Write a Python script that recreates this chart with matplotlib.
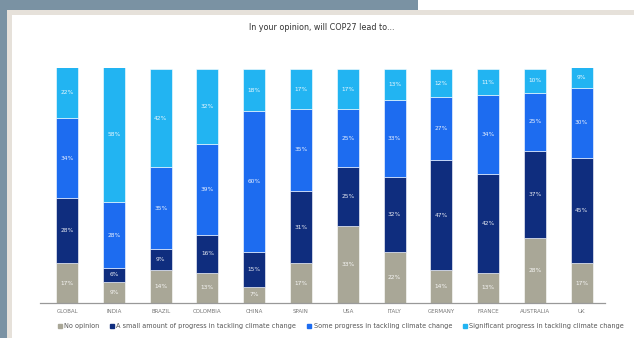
import matplotlib
matplotlib.use("Agg")
import matplotlib.pyplot as plt
from matplotlib.patches import Rectangle
from matplotlib.lines import Line2D
import numpy as np

countries = ["GLOBAL", "INDIA", "BRAZIL", "COLOMBIA", "CHINA", "SPAIN", "USA",
             "ITALY", "GERMANY", "FRANCE", "AUSTRALIA", "UK"]
no_opinion = [17, 9, 14, 13, 7, 17, 33, 22, 14, 13, 28, 17]
small_progress = [28, 6, 9, 16, 15, 31, 25, 32, 47, 42, 37, 45]
some_progress = [34, 28, 35, 39, 60, 35, 25, 33, 27, 34, 25, 30]
significant = [22, 58, 42, 32, 18, 17, 17, 13, 12, 11, 10, 9]

series_names = ["No opinion",
                "A small amount of progress in tackling climate change",
                "Some progress in tackling climate change",
                "Significant progress in tackling climate change"]
colors = ["#a9a797", "#0f2d7e", "#1d6cf0", "#22b4f2"]
title = "In your opinion, will COP27 lead to..."

W, H = 634, 338
fig = plt.figure(figsize=(W / 100, H / 100), dpi=100)
fig.patch.set_facecolor("white")
# background frame
fig.patches.append(Rectangle((0, 0), 7 / W, 1, transform=fig.transFigure,
                             facecolor="#7a92a3", edgecolor="none", zorder=-10))
fig.patches.append(Rectangle((0, 1 - 10 / H), 418 / W, 10 / H, transform=fig.transFigure,
                             facecolor="#7a92a3", edgecolor="none", zorder=-10))
fig.patches.append(Rectangle((7 / W, 1 - 15 / H), 1 - 7 / W, 5 / H, transform=fig.transFigure,
                             facecolor="#e6e1da", edgecolor="none", zorder=-9))
fig.patches.append(Rectangle((7 / W, 0), 5 / W, 1 - 10 / H, transform=fig.transFigure,
                             facecolor="#e6e1da", edgecolor="none", zorder=-9))

ax = fig.add_axes([40 / W, 1 - 303 / H, 565 / W, (303 - 68) / H])
ax.set_facecolor("none")
x = np.arange(len(countries))
bottom = np.zeros(len(countries))
for vals, col, name in zip([no_opinion, small_progress, some_progress, significant], colors, series_names):
    vals = np.array(vals, dtype=float)
    ax.bar(x, vals, bottom=bottom, width=0.47, color=col, label=name,
           edgecolor="white", linewidth=0.4)
    for xi, b, v in zip(x, bottom, vals):
        ax.text(xi, b + v / 2, f"{int(v)}%", ha="center", va="center",
                color="white", fontsize=4.2, alpha=0.9)
    bottom += vals

ax.set_xlim(-0.58, 11.5)
ax.set_ylim(0, 100.5)
ax.set_xticks(x)
ax.set_xticklabels(countries, fontsize=4, color="#777777")
ax.tick_params(axis="x", length=0, pad=4)
ax.set_yticks([])
for s in ["top", "right", "left"]:
    ax.spines[s].set_visible(False)
ax.spines["bottom"].set_color("#999999")
ax.spines["bottom"].set_linewidth(0.9)

fig.text(322 / W, 1 - 28 / H, title, ha="center", va="center", fontsize=5.8, color="#333333")

handles = [Line2D([], [], marker="s", linestyle="none", markersize=2.4, color=c) for c in colors]
leg = fig.legend(handles, series_names, loc="center", bbox_to_anchor=(341 / W, 1 - 326 / H),
                 ncol=4, frameon=False, fontsize=4.7, handlelength=0.5,
                 handletextpad=0.4, columnspacing=1.75, labelcolor="#555555")

fig.savefig("out.png", dpi=100)
